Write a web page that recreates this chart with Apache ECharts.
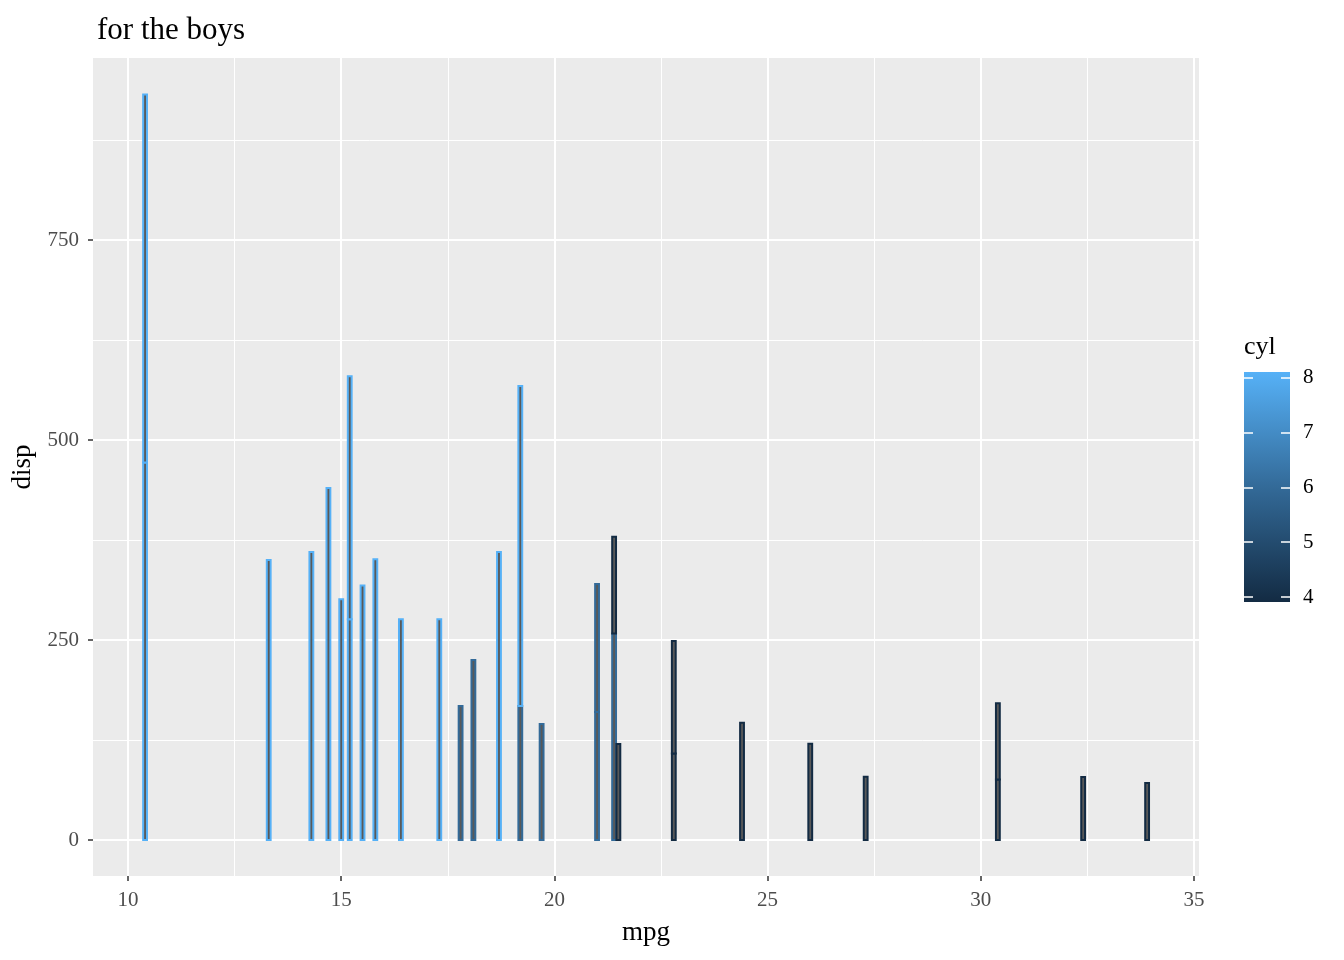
<!DOCTYPE html>
<html>
<head>
<meta charset="utf-8">
<script src="https://cdn.jsdelivr.net/npm/echarts@6/dist/echarts.min.js"></script>
<style>html,body{margin:0;padding:0;background:#fff;}#chart{width:1344px;height:960px;}</style>
</head>
<body>
<div id="chart"></div>
<script>
// mtcars rows (in data order)
const mpg  = [21.0,21.0,22.8,21.4,18.7,18.1,14.3,24.4,22.8,19.2,17.8,16.4,17.3,15.2,10.4,10.4,14.7,32.4,30.4,33.9,21.5,15.5,15.2,13.3,19.2,27.3,26.0,30.4,15.8,19.7,15.0,21.4];
const disp = [160,160,108,258,360,225,360,146.7,140.8,167.6,167.6,275.8,275.8,275.8,472,460,440,78.7,75.7,71.1,120.1,318,304,350,400,79,120.3,95.1,351,145,301,121];
const cyl  = [6,6,4,6,8,6,8,4,4,6,6,8,8,8,8,8,8,4,4,4,4,8,8,8,8,4,4,4,8,6,8,4];
const xMajor = [10,15,20,25,30,35];
const xMinor = [12.5,17.5,22.5,27.5,32.5];
const yMajor = [0,250,500,750];
const yMinor = [125,375,625,875];
const cylTicks = [4,5,6,7,8];
const palette = ['#132B43','#336A98','#56B1F7'];

function cylColor(c){ return echarts.color.lerp((c-4)/4, palette); }

// position = stack: each row sits on top of earlier rows with the same mpg
const stacked = [];
const running = {};
for (let i = 0; i < mpg.length; i++) {
  const k = mpg[i].toFixed(1);
  const base = running[k] || 0;
  running[k] = base + disp[i];
  stacked.push([mpg[i], base, base + disp[i], cyl[i]]);
}
const barW = 0.09;

const font = 'Liberation Serif';
const chart = echarts.init(document.getElementById('chart'));
chart.setOption({
  animation: false,
  title: { text: 'for the boys', left: 92, top: 10, textStyle: { fontFamily: font, fontSize: 31, fontWeight: 'normal', color: '#000' } },
  grid: [
    { left: 93, top: 58, width: 1106, height: 818, show: true, backgroundColor: '#EBEBEB', borderWidth: 0, outerBoundsMode: 'none', containLabel: false },
    { left: 1244, top: 372, width: 46, height: 230, show: false, outerBoundsMode: 'none', containLabel: false }
  ],
  xAxis: [
    { type: 'value', gridIndex: 0, min: 9.179, max: 35.117,
      name: 'mpg', nameLocation: 'middle', nameGap: 43, nameTextStyle: { fontFamily: font, fontSize: 27, color: '#000' },
      axisLine: { show: false, onZero: false },
      axisTick: { show: true, customValues: xMajor, length: 5, lineStyle: { color: '#333', width: 1.5 } },
      axisLabel: { customValues: xMajor, fontFamily: font, fontSize: 21, color: '#4D4D4D', margin: 14 },
      splitLine: { show: true, lineStyle: { color: '#fff', width: 2 } } },
    { type: 'value', gridIndex: 0, min: 9.179, max: 35.117, position: 'bottom',
      axisLine: { show: false, onZero: false }, axisLabel: { show: false },
      axisTick: { show: false, customValues: xMinor },
      splitLine: { show: true, lineStyle: { color: '#fff', width: 1 } } },
    { type: 'value', gridIndex: 1, show: false, min: 0, max: 1 }
  ],
  yAxis: [
    { type: 'value', gridIndex: 0, min: -45, max: 977.5,
      name: 'disp', nameLocation: 'middle', nameGap: 52, nameRotate: 90, nameTextStyle: { fontFamily: font, fontSize: 27, color: '#000' },
      axisLine: { show: false, onZero: false },
      axisTick: { show: true, customValues: yMajor, length: 5, lineStyle: { color: '#333', width: 1.5 } },
      axisLabel: { customValues: yMajor, fontFamily: font, fontSize: 21, color: '#4D4D4D', margin: 14 },
      splitLine: { show: true, lineStyle: { color: '#fff', width: 2 } } },
    { type: 'value', gridIndex: 0, min: -45, max: 977.5, position: 'left',
      axisLine: { show: false, onZero: false }, axisLabel: { show: false },
      axisTick: { show: false, customValues: yMinor },
      splitLine: { show: true, lineStyle: { color: '#fff', width: 1 } } },
    { type: 'value', gridIndex: 1, min: 3.909, max: 8.104, position: 'right',
      axisLine: { show: false, onZero: false }, splitLine: { show: false },
      axisTick: { show: true, inside: true, customValues: cylTicks, length: 9, lineStyle: { color: '#fff', width: 1.5 } },
      axisLabel: { customValues: cylTicks, fontFamily: font, fontSize: 21, color: '#000', margin: 13 } },
    { type: 'value', gridIndex: 1, min: 3.909, max: 8.104, position: 'left',
      axisLine: { show: false, onZero: false }, splitLine: { show: false }, axisLabel: { show: false },
      axisTick: { show: true, inside: true, customValues: cylTicks, length: 9, lineStyle: { color: '#fff', width: 1.5 } } }
  ],
  graphic: [
    { type: 'rect', z: -1, shape: { x: 1244, y: 372, width: 46, height: 230 },
      style: { fill: new echarts.graphic.LinearGradient(0, 0, 0, 1, [
        { offset: 0, color: palette[2] }, { offset: 0.5, color: palette[1] }, { offset: 1, color: palette[0] }]) } },
    { type: 'text', left: 1244, top: 334, style: { text: 'cyl', font: '26px "Liberation Serif"', fill: '#000' } }
  ],
  series: [{
    type: 'custom', xAxisIndex: 0, yAxisIndex: 0,
    data: stacked,
    encode: { x: 0, y: [1, 2] },
    renderItem: function (params, api) {
      const x = api.value(0), y0 = api.value(1), y1 = api.value(2), c = api.value(3);
      const a = api.coord([x - barW / 2, y1]);
      const b = api.coord([x + barW / 2, y0]);
      return { type: 'rect', shape: { x: a[0], y: a[1], width: b[0] - a[0], height: b[1] - a[1] },
        style: { fill: '#595959', stroke: cylColor(c), lineWidth: 2 } };
    }
  }]
});
</script>
</body>
</html>
